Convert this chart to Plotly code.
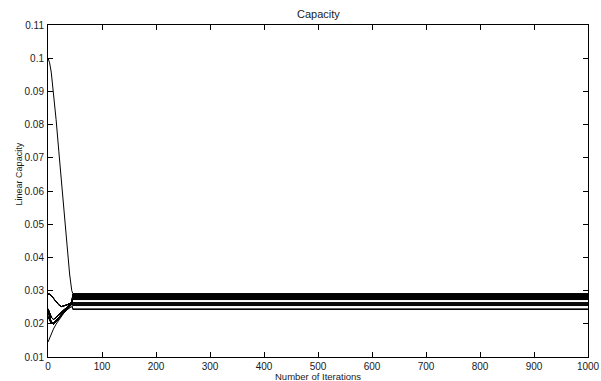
import plotly.graph_objects as go

# Iteration sample points (x axis)
ITER = [0, 3, 6, 10, 15, 20, 25, 30, 35, 40, 44, 46, 1000]

# Transient trajectories (values at ITER[0..10], i.e. iterations 0..44)
T_DROP = [0.1000, 0.0986, 0.0958, 0.0900, 0.0815, 0.0720, 0.0625, 0.0530, 0.0435, 0.0350, 0.0300]
T_ARC = [0.0290, 0.0289, 0.0285, 0.0277, 0.0266, 0.0257, 0.0252, 0.0254, 0.0257, 0.0261, 0.0265]
T_V1 = [0.0245, 0.0232, 0.0220, 0.0213, 0.0219, 0.0228, 0.0236, 0.0243, 0.0250, 0.0257, 0.0263]
T_V2 = [0.0238, 0.0222, 0.0205, 0.0199, 0.0206, 0.0216, 0.0226, 0.0235, 0.0243, 0.0252, 0.0260]
T_V3 = [0.0222, 0.0212, 0.0202, 0.0203, 0.0210, 0.0219, 0.0229, 0.0238, 0.0246, 0.0254, 0.0262]
T_LOW = [0.0145, 0.0158, 0.0170, 0.0184, 0.0199, 0.0212, 0.0224, 0.0234, 0.0242, 0.0248, 0.0252]

# Final (steady-state) capacities of each user, band by band
FINAL_BAND_A = [0.0291, 0.0290, 0.0289, 0.0288, 0.0287, 0.0286, 0.0285, 0.0284, 0.0283,
                0.0282, 0.0281, 0.0280, 0.0279, 0.0278, 0.0277, 0.0276, 0.0275, 0.0274, 0.0273]
FINAL_BAND_B = [0.0264, 0.0261, 0.0258, 0.0255]
FINAL_BAND_C = [0.0245, 0.0243]

X_TICKS = [0, 100, 200, 300, 400, 500, 600, 700, 800, 900, 1000]
Y_TICKS = [0.01, 0.02, 0.03, 0.04, 0.05, 0.06, 0.07, 0.08, 0.09, 0.1, 0.11]
Y_TICK_TEXT = ["0.01", "0.02", "0.03", "0.04", "0.05", "0.06", "0.07", "0.08", "0.09", "0.1", "0.11"]

TITLE = "Capacity"
X_LABEL = "Number of Iterations"
Y_LABEL = "Linear Capacity"

shared = [T_ARC, T_V1, T_V2, T_V3]
series = []
series.append(T_DROP + [FINAL_BAND_A[0], FINAL_BAND_A[0]])
for i, f in enumerate(FINAL_BAND_A[1:]):
    t = shared[i % len(shared)]
    series.append(t + [f, f])
for i, f in enumerate(FINAL_BAND_B):
    t = shared[i % len(shared)]
    series.append(t + [f, f])
series.append(T_LOW + [FINAL_BAND_C[0], FINAL_BAND_C[0]])
series.append(T_V3 + [FINAL_BAND_C[1], FINAL_BAND_C[1]])

fig = go.Figure()
for s in series:
    fig.add_trace(go.Scatter(x=ITER, y=s, mode="lines",
                             line=dict(color="black", width=1),
                             showlegend=False, hoverinfo="skip"))

FONT = "Liberation Sans, Arial, Helvetica, sans-serif"
TXT = "#1a1a1a"
axis_common = dict(showgrid=False, zeroline=False, showline=True, linecolor="black",
                   linewidth=1, mirror="ticks", ticks="inside", ticklen=5,
                   tickcolor="black", tickwidth=1, automargin=False,
                   tickfont=dict(family=FONT, size=10, color=TXT))

fig.update_layout(
    width=601, height=381,
    margin=dict(l=48, r=13, t=25, b=24),
    paper_bgcolor="white", plot_bgcolor="white",
    xaxis=dict(range=[0, 1000], tickvals=X_TICKS, ticklabelstandoff=0, **axis_common),
    yaxis=dict(range=[0.01, 0.11], tickvals=Y_TICKS, ticktext=Y_TICK_TEXT,
               ticklabelstandoff=1, **axis_common),
    annotations=[
        dict(text=TITLE, x=0.5, y=1, xref="paper", yref="paper", yanchor="middle",
             yshift=11, showarrow=False, font=dict(family=FONT, size=11, color=TXT)),
        dict(text=X_LABEL, x=0.5, y=0, xref="paper", yref="paper", yanchor="middle",
             yshift=-19, showarrow=False, font=dict(family=FONT, size=9.5, color=TXT)),
        dict(text=Y_LABEL, x=0, y=0.065, xref="paper", yref="y", xshift=-36,
             textangle=-90, showarrow=False, font=dict(family=FONT, size=9, color=TXT)),
    ],
)

fig.write_html("out.html", config={"displayModeBar": False},
               post_script="document.body.style.margin='0';document.body.style.overflow='hidden';")
